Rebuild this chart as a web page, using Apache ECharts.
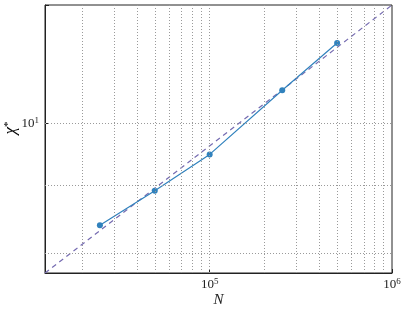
<!DOCTYPE html>
<html>
<head>
<meta charset="utf-8">
<script src="https://cdn.jsdelivr.net/npm/echarts@6/dist/echarts.min.js"></script>
<style>
html,body{margin:0;padding:0;background:#fff;}
#c{width:407px;height:314px;}
</style>
</head>
<body>
<div id="c"></div>
<script>
// Data
var sizesN = [25000, 50000, 100000, 250000, 500000];
var chiStar = [8.40, 8.91, 9.48, 10.58, 11.47];
// Dashed reference (fit) line endpoints
var fitN = [12500, 1000000];
var fitChi = [7.74, 12.24];
// Axis limits
var xMin = 12500, xMax = 1000000;
var yMin = 7.74, yMax = 12.24;
// Grid line positions (log minor + major ticks)
var xGridValues = [20000, 30000, 40000, 50000, 60000, 70000, 80000, 90000, 100000,
  200000, 300000, 400000, 500000, 600000, 700000, 800000, 900000];
var yGridValues = [8, 9, 10];

var FONT = '"Liberation Serif", "DejaVu Serif", serif';

function isPow10(v) {
  var l = Math.log10(v);
  return Math.abs(l - Math.round(l)) < 1e-6;
}
function powLabel(v) {
  if (!isPow10(v)) return '';
  return '{b|10}{s|' + Math.round(Math.log10(v)) + '}';
}
var richSup = {
  b: { fontFamily: FONT, fontSize: 13, color: '#222', lineHeight: 15 },
  s: { fontFamily: FONT, fontSize: 9, color: '#222', verticalAlign: 'top', lineHeight: 15, padding: [0, 0, 4, 0] }
};

var gridLineStyle = { color: '#9a9a9a', type: [1, 2], width: 1 };

var chart = echarts.init(document.getElementById('c'), null, { renderer: 'canvas' });
chart.setOption({
  animation: false,
  backgroundColor: '#fff',
  grid: { left: 45, right: 15, top: 5, bottom: 41, show: true, borderColor: '#222', borderWidth: 1, backgroundColor: 'transparent' },
  xAxis: {
    type: 'log', logBase: 10, min: xMin, max: xMax,
    axisLine: { show: true, lineStyle: { color: '#222', width: 1 } },
    axisTick: { show: true, inside: true, length: 4, lineStyle: { color: '#222' } },
    splitLine: { show: false },
    axisLabel: { formatter: powLabel, rich: richSup, margin: 4, showMinLabel: true, showMaxLabel: true, hideOverlap: false }
  },
  yAxis: {
    type: 'log', logBase: 10, min: yMin, max: yMax,
    axisLine: { show: true, lineStyle: { color: '#222', width: 1 } },
    axisTick: { show: true, inside: true, length: 4, lineStyle: { color: '#222' } },
    splitLine: { show: false },
    axisLabel: { formatter: powLabel, rich: richSup, margin: 6 }
  },
  graphic: [
    { type: 'text', x: 11, y: 128, rotation: Math.PI / 2,
      style: { text: '{a|χ}{b|*}', textAlign: 'center', textVerticalAlign: 'middle',
        rich: { a: { fontFamily: FONT, fontStyle: 'italic', fontSize: 17, color: '#222', lineHeight: 17 },
                b: { fontFamily: FONT, fontSize: 11, color: '#222', verticalAlign: 'top', lineHeight: 17 } } } },
    { type: 'text', x: 218.5, y: 300.5,
      style: { text: 'N', font: 'italic 15px ' + FONT, fill: '#222', textAlign: 'center', textVerticalAlign: 'middle' } }
  ],
  series: [
    {
      type: 'line', name: 'grid', data: [], silent: true, z: 1,
      markLine: {
        silent: true, symbol: 'none', label: { show: false },
        lineStyle: gridLineStyle,
        data: xGridValues.map(function (v) { return { xAxis: v }; })
          .concat(yGridValues.map(function (v) { return { yAxis: v }; }))
      }
    },
    {
      type: 'line', name: 'fit', z: 2,
      data: fitN.map(function (n, i) { return [n, fitChi[i]]; }),
      symbol: 'none', clip: true,
      lineStyle: { color: '#756bb1', width: 1.2, type: [5, 4] }
    },
    {
      type: 'line', name: 'chi', z: 3,
      data: sizesN.map(function (n, i) { return [n, chiStar[i]]; }),
      symbol: 'circle', symbolSize: 6,
      itemStyle: { color: '#3182bd' },
      lineStyle: { color: '#3182bd', width: 1.2 }
    }
  ]
});
</script>
</body>
</html>
